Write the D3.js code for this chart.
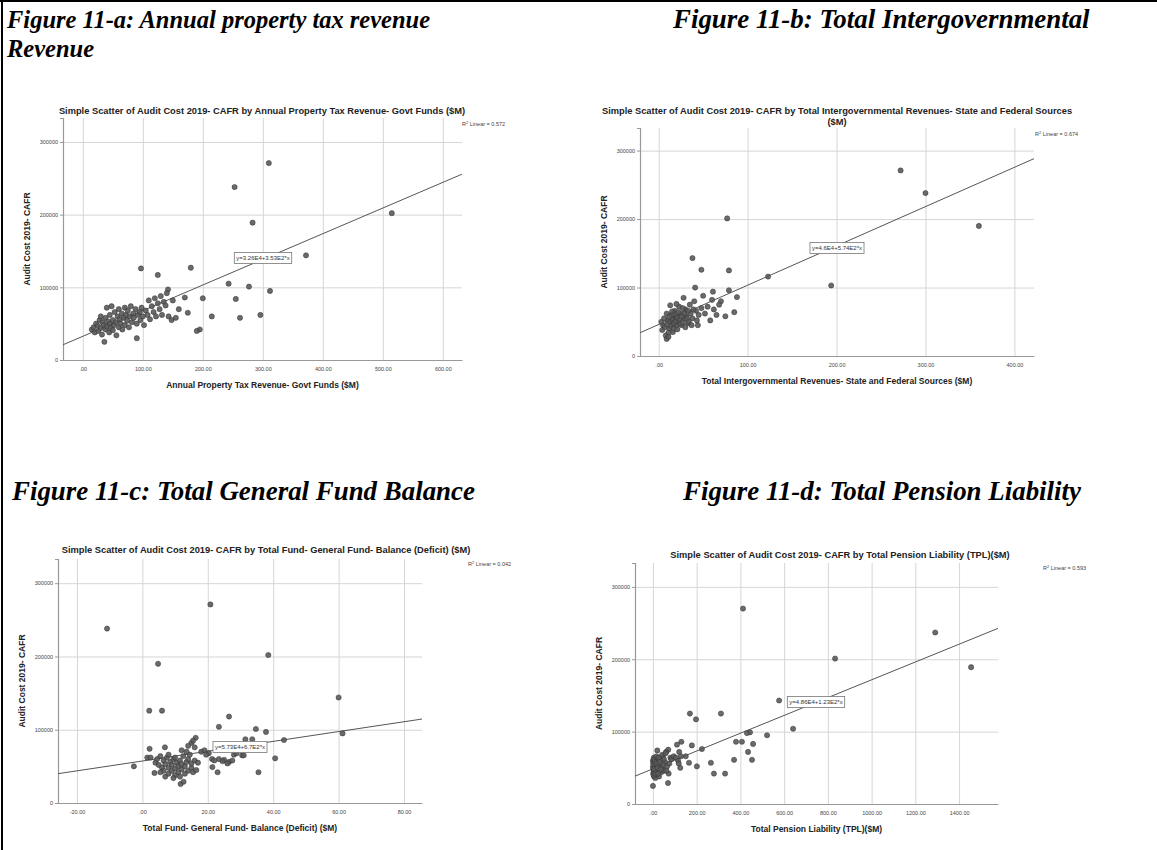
<!DOCTYPE html>
<html>
<head>
<meta charset="utf-8">
<script src="https://cdn.jsdelivr.net/npm/d3@7"></script>
<style>
  body { margin: 0; background: #fff; }
  svg { display: block; }
</style>
</head>
<body>
<div id="chart"></div>
<script>
// figure captions
const captions = [
  { text: 'Figure 11-a: Annual property tax revenue', x: 7, y: 28, size: 24.5 },
  { text: 'Revenue', x: 7, y: 57, size: 24.5 },
  { text: 'Figure 11-b: Total Intergovernmental', x: 673, y: 28, size: 26.9 },
  { text: 'Figure 11-c: Total General Fund Balance', x: 12, y: 500, size: 26.9 },
  { text: 'Figure 11-d: Total Pension Liability', x: 683, y: 500, size: 26.9 }
];

const yTicks = [0, 100000, 200000, 300000];
const propTaxTicks = [0, 100, 200, 300, 400, 500, 600];
const interGovTicks = [0, 100, 200, 300, 400];
const fundBalTicks = [-20, 0, 20, 40, 60, 80];
const pensionTicks = [0, 200, 400, 600, 800, 1000, 1200, 1400];

// [x ($M), audit cost]
const propTaxPts = [
  [310, 271000], [253, 238000], [283, 189000], [515, 202000], [372, 144000],
  [97, 126000], [125, 117000], [180, 127000], [243, 105000], [277, 101000],
  [312, 95000], [142, 97000], [255, 84000], [296, 62000], [262, 58000],
  [215, 60000], [195, 42000], [200, 85000], [170, 86000], [160, 70000],
  [15, 42000], [18, 45000], [20, 38000], [22, 50000], [25, 47000], [26, 40000],
  [28, 55000], [30, 44000], [30, 60000], [32, 35000], [33, 52000], [35, 48000],
  [36, 25000], [38, 58000], [38, 42000], [40, 46000], [40, 72000], [42, 53000],
  [44, 38000], [45, 62000], [45, 50000], [47, 44000], [48, 74000], [50, 55000],
  [50, 41000], [52, 48000], [53, 66000], [55, 52000], [56, 34000], [58, 60000],
  [60, 45000], [60, 70000], [62, 56000], [63, 50000], [65, 64000], [66, 42000],
  [68, 58000], [70, 72000], [70, 48000], [72, 62000], [74, 54000], [75, 68000],
  [77, 45000], [78, 60000], [80, 74000], [82, 52000], [84, 64000], [85, 58000],
  [88, 70000], [90, 30000], [90, 50000], [92, 62000], [95, 66000], [96, 55000],
  [98, 72000], [100, 60000], [102, 48000], [105, 68000], [108, 62000], [110, 82000],
  [112, 56000], [115, 74000], [118, 66000], [120, 85000], [122, 60000], [125, 78000],
  [128, 70000], [130, 88000], [132, 62000], [135, 80000], [138, 75000], [140, 92000],
  [143, 60000], [148, 55000], [150, 82000], [155, 58000], [175, 65000], [190, 40000]
];

const interGovPts = [
  [272, 271000], [300, 238000], [360, 190000], [77, 201000], [38, 143000],
  [48, 126000], [79, 125000], [123, 116000], [194, 103000], [41, 100000],
  [61, 94000], [79, 96000], [88, 86000], [70, 80000], [55, 72000], [85, 64000],
  [5, 45000], [8, 30000], [10, 52000], [12, 40000], [14, 60000], [15, 48000],
  [16, 35000], [18, 55000], [18, 66000], [20, 44000], [20, 58000], [22, 50000],
  [23, 72000], [25, 62000], [26, 45000], [28, 54000], [28, 85000], [30, 68000],
  [31, 58000], [33, 48000], [35, 75000], [36, 62000], [38, 55000], [40, 80000],
  [42, 66000], [44, 45000], [45, 60000], [48, 70000], [50, 88000], [52, 62000],
  [58, 52000], [60, 82000], [62, 68000], [65, 60000], [68, 75000], [75, 58000],
  [3, 50000], [4, 38000], [6, 55000], [7, 42000], [9, 62000], [10, 46000],
  [11, 34000], [12, 57000], [13, 50000], [14, 44000], [15, 65000], [16, 53000],
  [17, 40000], [17, 48000], [19, 61000], [19, 51000], [21, 39000], [21, 56000],
  [22, 64000], [24, 47000], [24, 53000], [26, 58000], [27, 49000], [29, 62000],
  [30, 42000], [32, 55000], [34, 50000], [37, 45000], [39, 68000], [43, 52000],
  [9, 25000], [11, 28000], [13, 74000], [20, 76000], [27, 70000], [33, 66000]
];

const fundBalPts = [
  [20.8, 271000], [-10.8, 238000], [4.8, 190000], [38.5, 202000], [60, 144000],
  [2.1, 126000], [6, 126000], [26.5, 118000], [23.4, 104000], [34.7, 101000],
  [37.8, 97000], [61.2, 95000], [43.3, 86000], [31.5, 87000], [33.6, 87000],
  [40.6, 61000], [35.5, 42000], [-2.6, 50000], [23, 42000], [30.5, 65000],
  [2.2, 74000], [6.9, 76000], [16.3, 89000], [11.7, 26000], [12.6, 29000],
  [3.7, 41000], [23.4, 60000], [25, 59000], [26.5, 56000], [27.5, 58000],
  [28, 66000], [28.8, 68000], [31, 65000], [20.3, 68000], [21.3, 60000],
  [21.4, 49000], [18, 70000], [19, 72000], [15, 82000], [15.5, 85000],
  [14, 78000], [1.5, 62000], [2.5, 62000], [4, 55000], [4.5, 60000], [5, 52000],
  [5.5, 64000], [6, 48000], [6.5, 58000], [6.5, 44000], [7, 36000], [7, 53000],
  [7.5, 62000], [8, 40000], [8, 48000], [8.5, 56000], [9, 44000], [9, 52000],
  [9.5, 60000], [10, 38000], [10, 47000], [10.5, 55000], [11, 42000], [11, 50000],
  [11.5, 58000], [12, 46000], [12, 53000], [12.5, 64000], [13, 40000], [13, 50000],
  [13.5, 56000], [14, 44000], [14, 60000], [14.5, 66000], [15, 48000], [15, 54000],
  [15.5, 42000], [16, 58000], [16.5, 45000], [17, 55000], [13.5, 70000], [12, 72000],
  [10, 62000], [8, 66000], [5.5, 42000], [9.5, 34000], [11.5, 36000], [16, 76000],
  [19.5, 66000], [22, 58000], [24.5, 57000], [26, 54000]
];

const pensionPts = [
  [412, 270000], [1291, 237000], [833, 201000], [1455, 189000], [577, 143000],
  [169, 125000], [311, 125000], [197, 117000], [641, 104000], [444, 99000],
  [430, 98000], [522, 95000], [380, 86000], [407, 86000], [458, 83000],
  [178, 81000], [224, 76000], [435, 72000], [371, 61000], [453, 61000],
  [165, 57000], [265, 57000], [201, 52000], [279, 42000], [330, 42000],
  [69, 29000], [0, 25000], [130, 86000], [110, 82000], [150, 66000], [120, 72000],
  [125, 50000], [115, 60000], [80, 64000], [70, 75000], [60, 72000], [55, 58000],
  [45, 66000], [40, 50000], [35, 62000], [30, 45000], [25, 55000], [20, 74000],
  [18, 40000], [15, 52000], [12, 60000], [10, 44000], [8, 48000], [6, 56000],
  [5, 38000], [4, 64000], [3, 46000], [2, 52000], [1, 42000], [0, 50000], [0, 60000],
  [2, 58000], [5, 44000], [7, 62000], [9, 52000], [11, 36000], [14, 48000],
  [16, 66000], [22, 46000], [26, 64000], [28, 38000], [32, 54000], [38, 44000],
  [42, 68000], [48, 54000], [52, 46000], [58, 70000], [65, 52000], [72, 42000],
  [75, 56000], [85, 62000], [95, 66000], [105, 64000], [118, 56000], [128, 66000],
  [1, 55000], [3, 40000], [6, 48000], [9, 58000], [12, 42000], [17, 56000],
  [21, 50000], [24, 42000], [30, 58000], [36, 48000], [50, 62000], [62, 46000]
];

// regression [intercept, slope]
const propTaxFit = [32600, 353];
const interGovFit = [46000, 574];
const fundBalFit = [57300, 670];
const pensionFit = [48600, 123];

const panels = [
  {
    title: ['Simple Scatter of Audit Cost 2019- CAFR by Annual Property Tax Revenue- Govt Funds ($M)'],
    titleX: 262, titleY: 114,
    xTitle: 'Annual Property Tax Revenue- Govt Funds ($M)',
    pts: propTaxPts, fit: propTaxFit, xTicks: propTaxTicks,
    eq: 'y=3.26E4+3.53E2*x', eqX: 263, eqY: 258,
    r2: '0.572', r2X: 462, r2Y: 126,
    xDom: [-33, 632], xRange: [63, 462], yRange: [360, 118]
  },
  {
    title: ['Simple Scatter of Audit Cost 2019- CAFR by Total Intergovernmental Revenues- State and Federal Sources', '($M)'],
    titleX: 837, titleY: 114,
    xTitle: 'Total Intergovernmental Revenues- State and Federal Sources ($M)',
    pts: interGovPts, fit: interGovFit, xTicks: interGovTicks,
    eq: 'y=4.6E4+5.74E2*x', eqX: 837, eqY: 248,
    r2: '0.674', r2X: 1035, r2Y: 136,
    xDom: [-21, 422], xRange: [640, 1034], yRange: [356, 128]
  },
  {
    title: ['Simple Scatter of Audit Cost 2019- CAFR by Total Fund- General Fund- Balance (Deficit) ($M)'],
    titleX: 266, titleY: 553,
    xTitle: 'Total Fund- General Fund- Balance (Deficit) ($M)',
    pts: fundBalPts, fit: fundBalFit, xTicks: fundBalTicks,
    eq: 'y=5.73E4+6.7E2*x', eqX: 240, eqY: 747,
    r2: '0.042', r2X: 468, r2Y: 566,
    xDom: [-25.8, 85.5], xRange: [58, 422], yRange: [803, 559]
  },
  {
    title: ['Simple Scatter of Audit Cost 2019- CAFR by Total Pension Liability (TPL)($M)'],
    titleX: 840, titleY: 558,
    xTitle: 'Total Pension Liability (TPL)($M)',
    pts: pensionPts, fit: pensionFit, xTicks: pensionTicks,
    eq: 'y=4.86E4+1.23E2*x', eqX: 816, eqY: 702,
    r2: '0.593', r2X: 1043, r2Y: 570,
    xDom: [-82, 1578], xRange: [635, 998], yRange: [804, 563]
  }
];

const svg = d3.select('#chart').append('svg')
  .attr('width', 1157)
  .attr('height', 850);

// page frame
svg.append('line').attr('x1', 0).attr('x2', 1157).attr('y1', 1).attr('y2', 1)
  .attr('stroke', '#000').attr('stroke-width', 2);
svg.append('line').attr('x1', 2).attr('x2', 2).attr('y1', 0).attr('y2', 850)
  .attr('stroke', '#000').attr('stroke-width', 2);

svg.selectAll('.caption')
  .data(captions)
  .enter().append('text')
  .attr('class', 'caption')
  .attr('x', d => d.x)
  .attr('y', d => d.y)
  .attr('font-family', '"Liberation Serif", "Times New Roman", serif')
  .attr('font-weight', 'bold')
  .attr('font-style', 'italic')
  .attr('font-size', d => d.size)
  .text(d => d.text);

const fmtX = v => v === 0 ? '.00' : v.toFixed(2);
const sans = '"Liberation Sans", Arial, sans-serif';

panels.forEach(p => {
  const g = svg.append('g');
  const x = d3.scaleLinear().domain(p.xDom).range(p.xRange);
  const y = d3.scaleLinear().domain([0, 333000]).range(p.yRange);

  // gridlines
  g.append('g')
    .attr('transform', `translate(0,${p.yRange[0]})`)
    .call(d3.axisBottom(x).tickValues(p.xTicks).tickSize(-(p.yRange[0] - p.yRange[1])).tickFormat(''))
    .call(s => s.select('.domain').remove())
    .selectAll('line').attr('stroke', '#d6d6d6').attr('stroke-width', 1);
  g.append('g')
    .attr('transform', `translate(${p.xRange[0]},0)`)
    .call(d3.axisLeft(y).tickValues(yTicks.slice(1)).tickSize(-(p.xRange[1] - p.xRange[0])).tickFormat(''))
    .call(s => s.select('.domain').remove())
    .selectAll('line').attr('stroke', '#d6d6d6').attr('stroke-width', 1);

  // axes
  const xa = g.append('g')
    .attr('transform', `translate(0,${p.yRange[0]})`)
    .call(d3.axisBottom(x).tickValues(p.xTicks).tickSize(0).tickPadding(7).tickFormat(fmtX));
  const ya = g.append('g')
    .attr('transform', `translate(${p.xRange[0]},0)`)
    .call(d3.axisLeft(y).tickValues(yTicks).tickSize(3).tickPadding(2).tickFormat(d3.format('d')));
  [xa, ya].forEach(a => {
    a.select('.domain').attr('stroke', '#999').attr('stroke-width', 1.2);
    a.selectAll('line').attr('stroke', '#999');
    a.selectAll('text').attr('font-family', sans).attr('font-size', 5.5).attr('fill', '#444');
  });

  // fit line
  g.append('line')
    .attr('x1', x(p.xDom[0])).attr('y1', y(p.fit[0] + p.fit[1] * p.xDom[0]))
    .attr('x2', x(p.xDom[1])).attr('y2', y(p.fit[0] + p.fit[1] * p.xDom[1]))
    .attr('stroke', '#555').attr('stroke-width', 1);

  // points
  g.selectAll('.pt')
    .data(p.pts)
    .enter().append('circle')
    .attr('class', 'pt')
    .attr('cx', d => x(d[0]))
    .attr('cy', d => y(d[1]))
    .attr('r', 2.6)
    .attr('fill', '#5a5a5a')
    .attr('fill-opacity', 0.9)
    .attr('stroke', '#333')
    .attr('stroke-width', 0.5);

  // equation label
  const eq = g.append('g').attr('transform', `translate(${p.eqX},${p.eqY})`);
  const eqText = eq.append('text')
    .attr('text-anchor', 'middle')
    .attr('dy', '0.35em')
    .attr('font-family', sans)
    .attr('font-size', 6)
    .attr('fill', '#333')
    .text(p.eq);
  const bb = eqText.node().getBBox();
  eq.insert('rect', 'text')
    .attr('x', bb.x - 2).attr('y', -5.5)
    .attr('width', bb.width + 4).attr('height', 11)
    .attr('fill', '#fff').attr('stroke', '#777').attr('stroke-width', 0.8);

  // R2 label
  const r2 = g.append('text')
    .attr('x', p.r2X).attr('y', p.r2Y)
    .attr('font-family', sans).attr('font-size', 5.5).attr('fill', '#444');
  r2.append('tspan').text('R');
  r2.append('tspan').attr('dy', -2).attr('font-size', 4).text('2');
  r2.append('tspan').attr('dy', 2).text(' Linear = ' + p.r2);

  // chart title
  p.title.forEach((t, i) => {
    g.append('text')
      .attr('x', p.titleX).attr('y', p.titleY + i * 11)
      .attr('text-anchor', 'middle')
      .attr('font-family', sans).attr('font-weight', 'bold')
      .attr('font-size', 9.3).attr('fill', '#222')
      .text(t);
  });

  // axis titles
  g.append('text')
    .attr('x', (p.xRange[0] + p.xRange[1]) / 2)
    .attr('y', p.yRange[0] + 28)
    .attr('text-anchor', 'middle')
    .attr('font-family', sans).attr('font-weight', 'bold')
    .attr('font-size', 8.5).attr('fill', '#222')
    .text(p.xTitle);
  g.append('text')
    .attr('transform', `translate(${p.xRange[0] - 33},${(p.yRange[0] + p.yRange[1]) / 2}) rotate(-90)`)
    .attr('text-anchor', 'middle')
    .attr('font-family', sans).attr('font-weight', 'bold')
    .attr('font-size', 8.5).attr('fill', '#222')
    .text('Audit Cost 2019- CAFR');
});
</script>
</body>
</html>
